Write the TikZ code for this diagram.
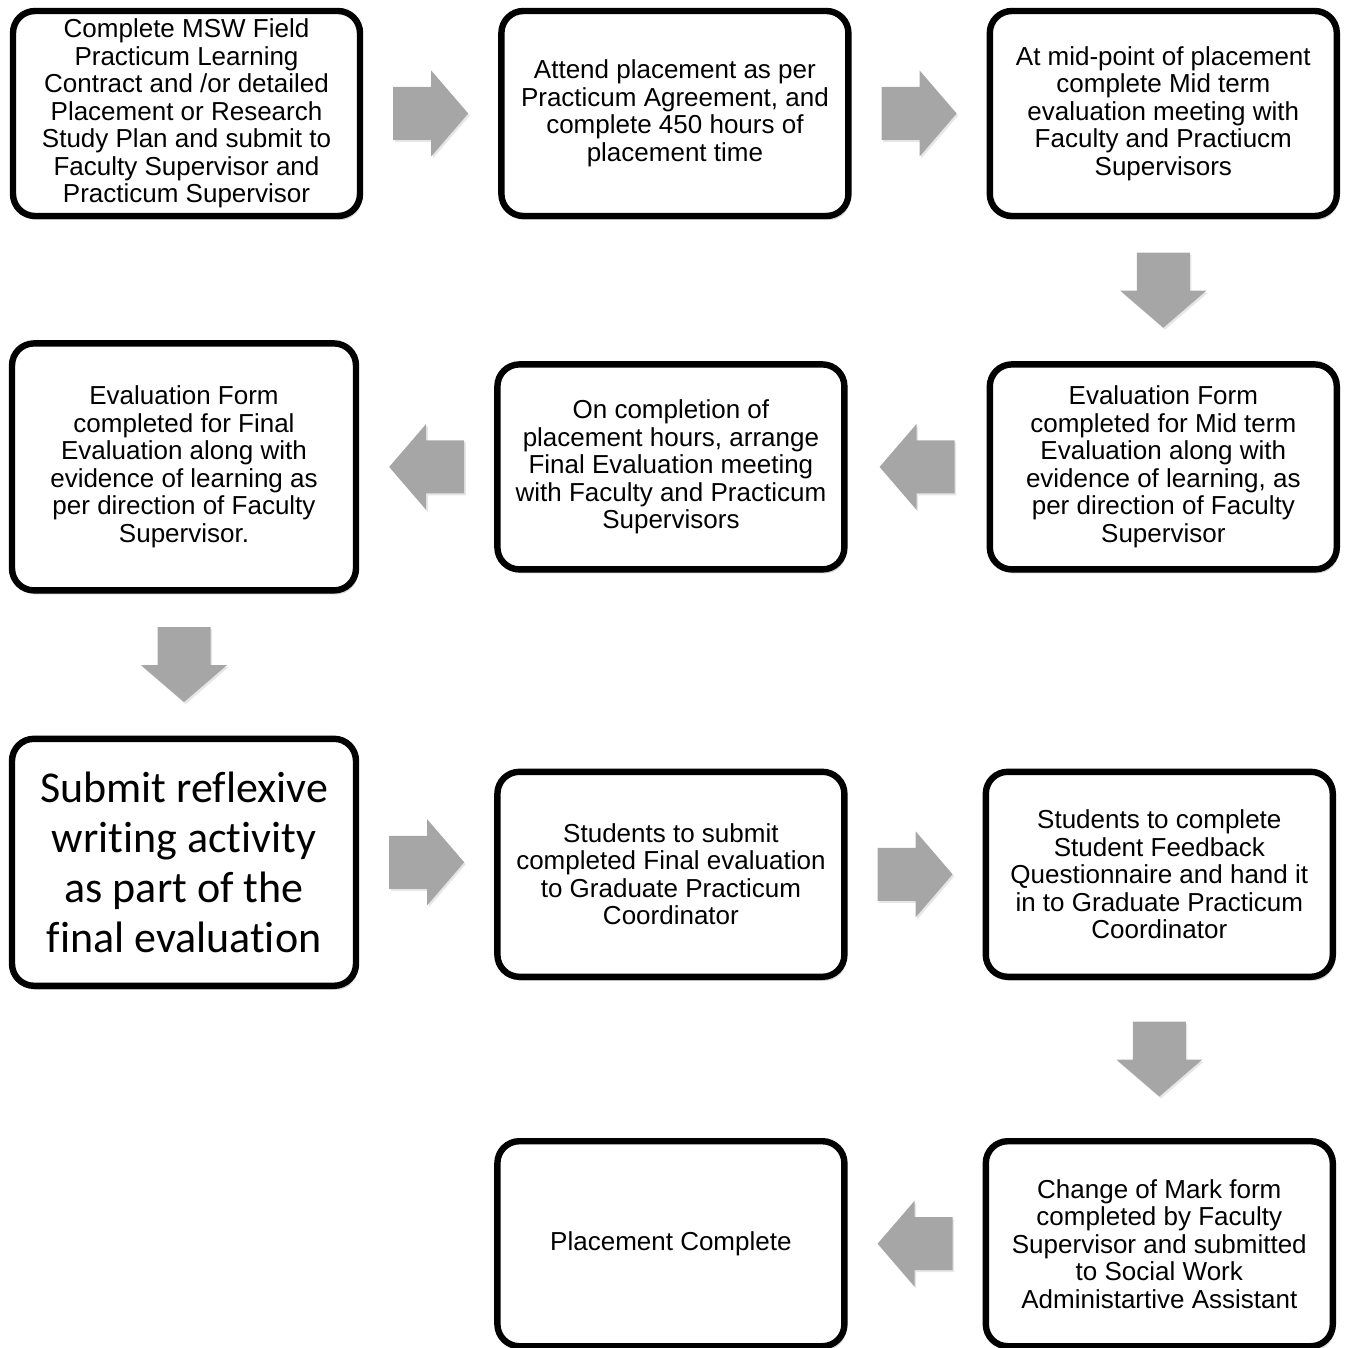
\documentclass[tikz,border=0pt]{standalone}
\usepackage{fontspec}
\setmainfont{Liberation Sans}
\newfontfamily\calibrifont[Ligatures=CommonOff]{Carlito}
\usetikzlibrary{positioning,shadows}
\definecolor{arrowgray}{HTML}{A6A6A6}

\begin{document}
\begin{tikzpicture}[x=0.5pt, y=-0.5pt, node distance=67.5pt,
    stepbox/.style={draw=black, line width=3.2pt, rounded corners=11pt, fill=white,
      minimum width=173.5pt, minimum height=102.5pt, align=center, inner sep=2pt,
      font=\fontsize{13}{13.75}\selectfont,
      drop shadow={opacity=0.35, shadow xshift=1pt, shadow yshift=-2pt}},
    tallbox/.style={stepbox, minimum width=172pt, minimum height=123.5pt},
    midarrow/.style={pos=0.5, sloped, allow upside down},
    pics/flowarrow/.style={code={
      \fill[arrowgray, drop shadow={opacity=0.2, shadow xshift=0.8pt, shadow yshift=-1pt}]
        (-37.5,-26.5) -- (0.5,-26.5) -- (0.5,-43) -- (37.5,0)
        -- (0.5,43) -- (0.5,26.5) -- (-37.5,26.5) -- cycle;}}]

  \useasboundingbox (0,0) rectangle (1344,1348);

  \node[stepbox] (contract) at (186.5,113.5)
    {Complete MSW Field\\Practicum Learning\\Contract and /or detailed\\Placement or Research\\Study Plan and submit to\\Faculty Supervisor and\\Practicum Supervisor};
  \node[stepbox, right=of contract] (attend)
    {Attend placement as per\\Practicum Agreement, and\\complete 450 hours of\\placement time};
  \node[stepbox, right=of attend] (midpoint)
    {At mid-point of placement\\complete Mid term\\evaluation meeting with\\Faculty and Practiucm\\Supervisors};
  \node[stepbox, below=71pt of midpoint] (midform)
    {Evaluation Form\\completed for Mid term\\Evaluation along with\\evidence of learning, as\\per direction of Faculty\\Supervisor};
  \node[stepbox, left=69.5pt of midform] (arrange)
    {On completion of\\placement hours, arrange\\Final Evaluation meeting\\with Faculty and Practicum\\Supervisors};
  \node[tallbox, left=of arrange] (finalform)
    {Evaluation Form\\completed for Final\\Evaluation along with\\evidence of learning as\\per direction of Faculty\\Supervisor.};
  \node[tallbox, below=71pt of finalform, font=\calibrifont\fontsize{22}{25}\selectfont] (reflexive)
    {Submit reflexive\\writing activity\\as part of the\\final evaluation};
  \node[stepbox, right=of reflexive, yshift=-6pt] (submit)
    {Students to submit\\completed Final evaluation\\to Graduate Practicum\\Coordinator};
  \node[stepbox, right=of submit] (feedback)
    {Students to complete\\Student Feedback\\Questionnaire and hand it\\in to Graduate Practicum\\Coordinator};
  \node[stepbox, below=79pt of feedback] (changemark)
    {Change of Mark form\\completed by Faculty\\Supervisor and submitted\\to Social Work\\Administartive Assistant};
  \node[stepbox, left=of changemark] (complete) {Placement Complete};

  \path (contract) -- (attend) pic[midarrow] {flowarrow};
  \path (attend) -- (midpoint) pic[midarrow] {flowarrow};
  \path (midpoint) -- (midform) pic[midarrow] {flowarrow};
  \path (midform) -- (arrange) pic[midarrow] {flowarrow};
  \path (arrange.west) -- (arrange.west -| finalform.east) pic[midarrow] {flowarrow};
  \path (finalform) -- (reflexive) pic[midarrow] {flowarrow};
  \path (reflexive.east) -- (reflexive.east -| submit.west) pic[midarrow] {flowarrow};
  \path (submit) -- (feedback) pic[midarrow] {flowarrow};
  \path (feedback) -- (changemark) pic[midarrow] {flowarrow};
  \path (changemark) -- (complete) pic[midarrow] {flowarrow};
\end{tikzpicture}
\end{document}
